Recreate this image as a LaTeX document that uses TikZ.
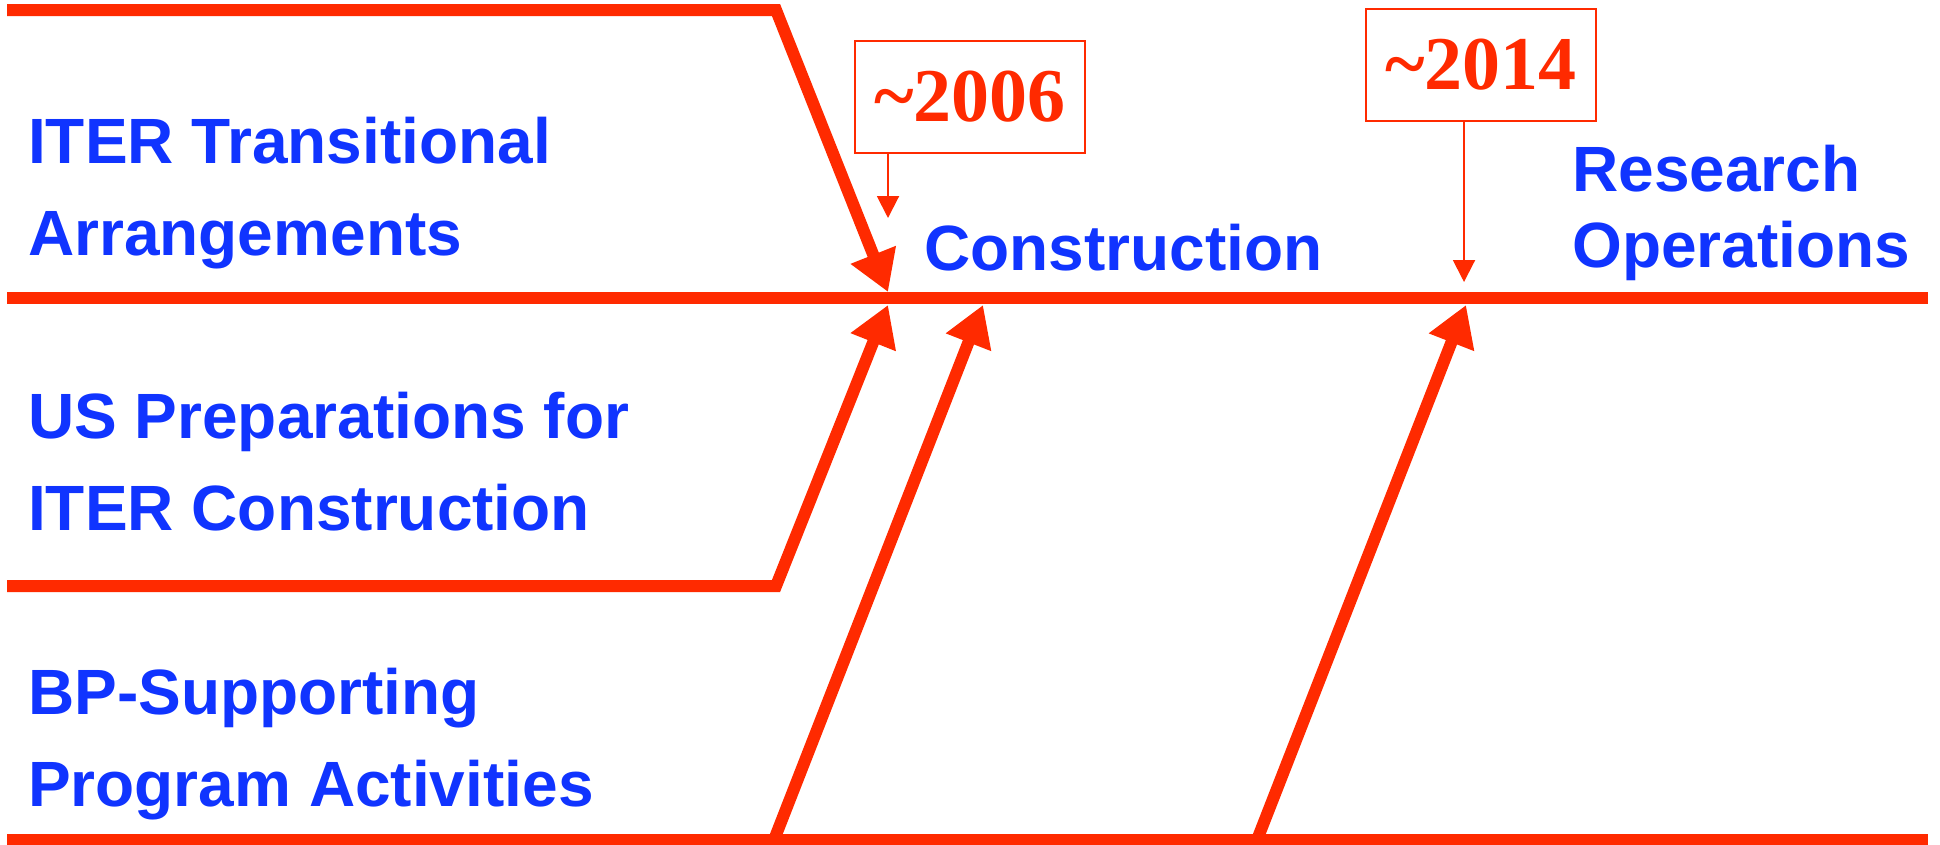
\documentclass[tikz,border=0pt]{standalone}
\usepackage{fontspec}
\newfontfamily\labfont{Liberation Sans}
\newfontfamily\yrfont{Liberation Serif}
\usetikzlibrary{arrows.meta}
\definecolor{lineRed}{RGB}{255,42,0}
\definecolor{textBlue}{RGB}{16,52,255}
\tikzset{
  thickline/.style={draw=lineRed, line width=12pt},
  bigarrow/.style={thickline, -{Triangle[length=40pt,width=46pt]}},
  thinarrow/.style={draw=lineRed, line width=2pt, -{Triangle[length=22pt,width=22pt]}},
  yearbox/.style={draw=lineRed, line width=2pt, text=lineRed, font=\yrfont\bfseries\fontsize{76}{80}\selectfont, minimum width=230pt, minimum height=112pt, inner sep=0pt},
  lbl/.style={text=textBlue, font=\labfont\bfseries\fontsize{64}{70}\selectfont, anchor=base west, inner sep=0pt}
}
\begin{document}
\begin{tikzpicture}[x=1pt,y=-1pt]
\useasboundingbox (0,0) rectangle (1940,844);
% coordinates
\coordinate (tl) at (7,10);
\coordinate (tc) at (776,10);
\coordinate (tip1) at (888,292);
\coordinate (ml) at (7,298);
\coordinate (mr) at (1928,298);
\coordinate (sl) at (7,586);
\coordinate (sc) at (776,586);
\coordinate (tip2) at (888,305);
\coordinate (bl) at (7,840);
\coordinate (br) at (1928,840);
\coordinate (b3) at (774,840);
\coordinate (tip3) at (983,305);
\coordinate (b4) at (1257,840);
\coordinate (tip4) at (1466,305);
\coordinate (m2006) at (888,218);
\coordinate (m2014) at (1464,282);
% lines
\draw[thickline] (ml) -- (mr);
\draw[thickline] (bl) -- (br);
\draw[bigarrow] (tl) -- (tc) -- (tip1);
\draw[bigarrow] (sl) -- (sc) -- (tip2);
\draw[bigarrow] (b3) -- (tip3);
\draw[bigarrow] (b4) -- (tip4);
% year boxes
\node[yearbox] (y2006) at (970,97) {\textasciitilde2006};
\node[yearbox] (y2014) at (1481,65) {\textasciitilde2014};
\draw[thinarrow] (m2006 |- y2006.south) -- (m2006);
\draw[thinarrow] (m2014 |- y2014.south) -- (m2014);
% labels
\node[lbl] (la1) at (28,163) {ITER Transitional};
\node[lbl] (la2) at (28,255) {Arrangements};
\node[lbl] (lb1) at (28,438) {US Preparations for};
\node[lbl] (lb2) at (28,530) {ITER Construction};
\node[lbl] (lc1) at (28,714) {BP-Supporting};
\node[lbl] (lc2) at (28,806) {Program Activities};
\node[lbl] (con) at (924,270) {Construction};
\node[lbl] (ro1) at (1572,191) {Research};
\node[lbl] (ro2) at (1572,267) {Operations};
\end{tikzpicture}
\end{document}
